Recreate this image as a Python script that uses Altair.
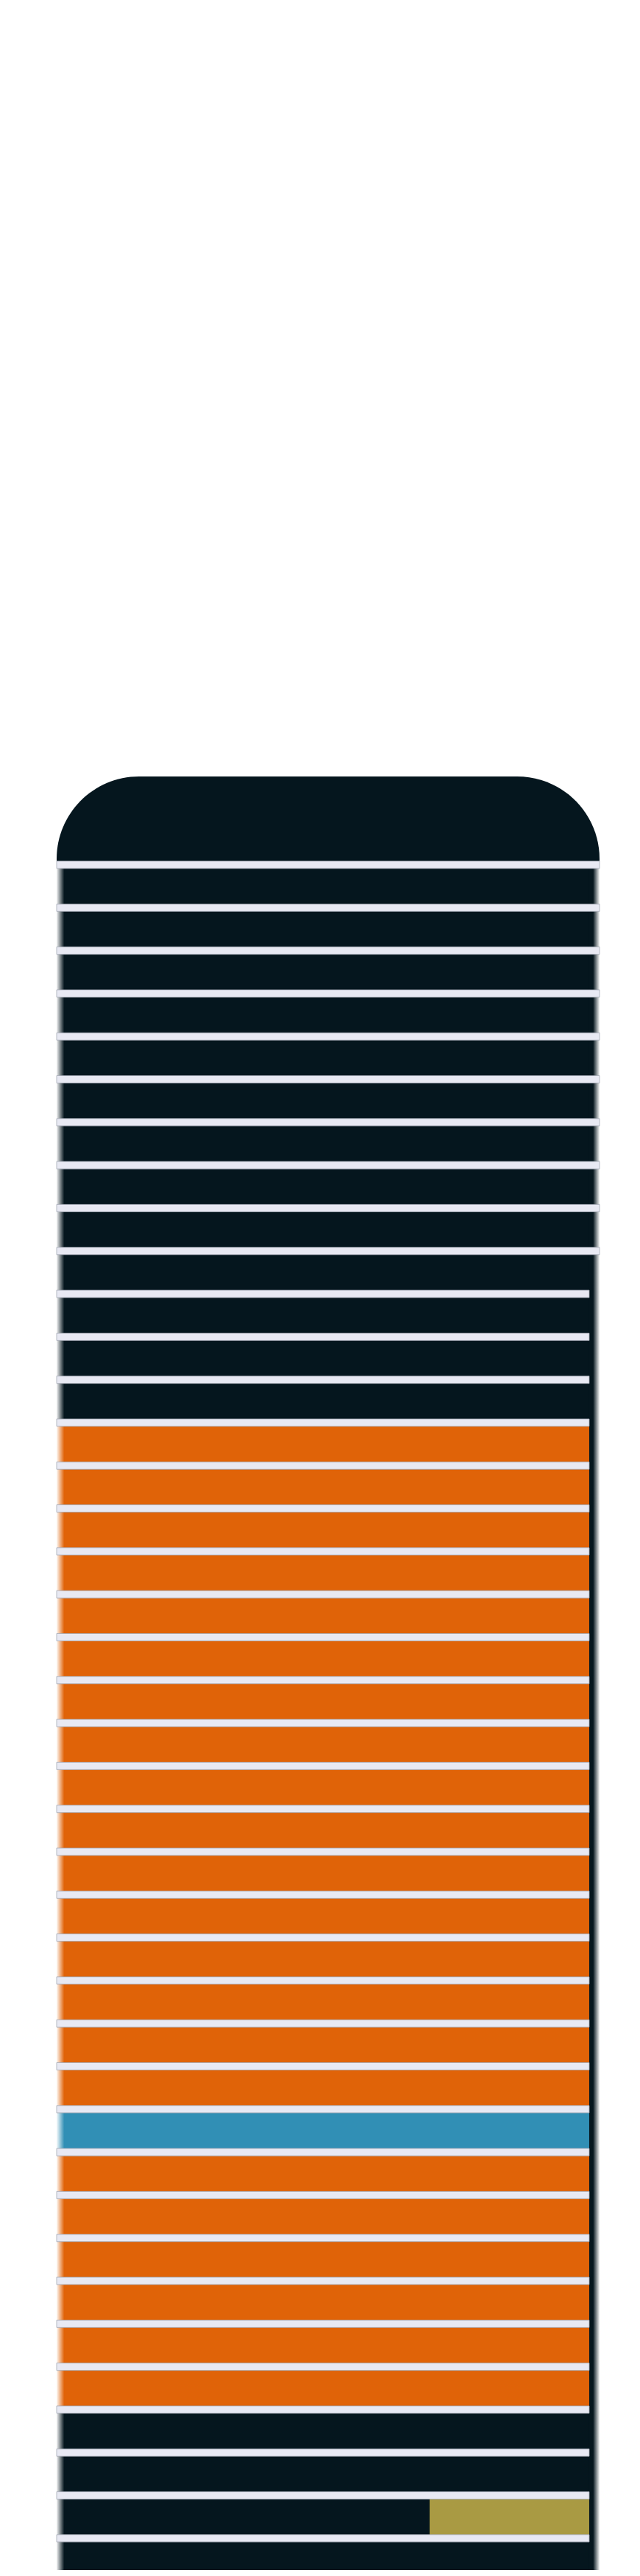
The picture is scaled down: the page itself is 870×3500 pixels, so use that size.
import altair as alt
import pandas as pd

# ---- data -------------------------------------------------------------
# rows between the light separators, top to bottom (row 0 is the rounded cap)
row_ids = [1, 2, 3, 4, 5, 6, 7, 8, 9, 10,
           11, 12, 13, 14, 15, 16, 17, 18, 19, 20,
           21, 22, 23, 24, 25, 26, 27, 28, 29, 30,
           31, 32, 33, 34, 35, 36, 37, 38, 39, 40]
row_kind = ["navy", "navy", "navy", "navy", "navy", "navy", "navy", "navy", "navy", "navy",
            "navy", "navy", "navy", "orange", "orange", "orange", "orange", "orange", "orange", "orange",
            "orange", "orange", "orange", "orange", "orange", "orange", "orange", "orange", "orange", "blue",
            "orange", "orange", "orange", "orange", "orange", "orange", "navy", "navy", "navy", "navy"]
row_start = [0] * 40
row_end = [98.1] * 40

# extra segment inside a row
seg_row = [39]
seg_kind = ["olive"]
seg_start = [68.7]
seg_end = [98.1]

# separators (index = boundary between row k and row k+1)
gap_ids = [0, 1, 2, 3, 4, 5, 6, 7, 8, 9,
           10, 11, 12, 13, 14, 15, 16, 17, 18, 19,
           20, 21, 22, 23, 24, 25, 26, 27, 28, 29,
           30, 31, 32, 33, 34, 35, 36, 37, 38, 39]
gap_end = [100, 100, 100, 100, 100, 100, 100, 100, 100, 100,
           98.1, 98.1, 98.1, 98.1, 98.1, 98.1, 98.1, 98.1, 98.1, 98.1,
           98.1, 98.1, 98.1, 98.1, 98.1, 98.1, 98.1, 98.1, 98.1, 98.1,
           98.1, 98.1, 98.1, 98.1, 98.1, 98.1, 98.1, 98.1, 98.1, 98.1]
gap_half = 0.086

# background panel (rounded top)
bg_top = [-2.06]
bg_bottom = [39.74]
bg_right = [100]

# soft side edges of the panel
edge_x0 = [0, 98.8]
edge_x1 = [1.4, 100]
edge_dir = ["left", "right"]

kinds = ["navy", "orange", "blue", "olive"]
kind_colors = ["#05161e", "#e06308", "#318fb5", "#a99a43"]

# ---- tables -----------------------------------------------------------
rows = pd.DataFrame({
    "kind": row_kind + seg_kind,
    "x0": row_start + seg_start,
    "x1": row_end + seg_end,
    "y0": [r - 1 for r in row_ids] + [r - 1 for r in seg_row],
    "y1": row_ids + seg_row,
})
gaps = pd.DataFrame({
    "x0": [0] * len(gap_ids),
    "x1": gap_end,
    "y0": [g - gap_half for g in gap_ids],
    "y1": [g + gap_half for g in gap_ids],
})
bg = pd.DataFrame({"x0": [0], "x1": bg_right, "y0": bg_top, "y1": bg_bottom})
edges = pd.DataFrame({
    "x0": edge_x0, "x1": edge_x1, "dir": edge_dir,
    "y0": [0.0, 0.0], "y1": bg_bottom * 2,
})

xs = alt.Scale(domain=[0, 100], nice=False, zero=False)
ys = alt.Scale(domain=[-2.144, 39.74], nice=False, zero=False, reverse=True)

def enc(ch):
    return ch.encode(
        x=alt.X("x0:Q", scale=xs, axis=None), x2="x1:Q",
        y=alt.Y("y0:Q", scale=ys, axis=None), y2="y1:Q",
    )

background = enc(alt.Chart(bg).mark_rect(
    color="#05161e", cornerRadiusTopLeft=112, cornerRadiusTopRight=112
))

bars = enc(alt.Chart(rows).mark_rect()).encode(
    color=alt.Color("kind:N", scale=alt.Scale(domain=kinds, range=kind_colors), legend=None),
)

fade_left = alt.LinearGradient(
    gradient="linear", x1=0, x2=1, y1=0, y2=0,
    stops=[alt.GradientStop(color="rgba(255,255,255,0.95)", offset=0),
           alt.GradientStop(color="rgba(255,255,255,0)", offset=1)],
)
fade_right = alt.LinearGradient(
    gradient="linear", x1=0, x2=1, y1=0, y2=0,
    stops=[alt.GradientStop(color="rgba(255,255,255,0)", offset=0),
           alt.GradientStop(color="rgba(255,255,255,0.95)", offset=1)],
)
edge_l = enc(alt.Chart(edges).transform_filter("datum.dir == 'left'").mark_rect(color=fade_left))
edge_r = enc(alt.Chart(edges).transform_filter("datum.dir == 'right'").mark_rect(color=fade_right))

separators = enc(alt.Chart(gaps).mark_rect(
    color="#e8e9f3", stroke="#a3a8b4", strokeWidth=0.8
))

chart = alt.layer(background, bars, edge_l, edge_r, separators).properties(
    width=738,
    height=2442,
    padding={"left": 69, "top": 1042, "right": 40, "bottom": 0},
    autosize="none",
    background="white",
).configure_view(stroke=None)

chart.save("out.html", embed_options={"renderer": "svg", "actions": False})
